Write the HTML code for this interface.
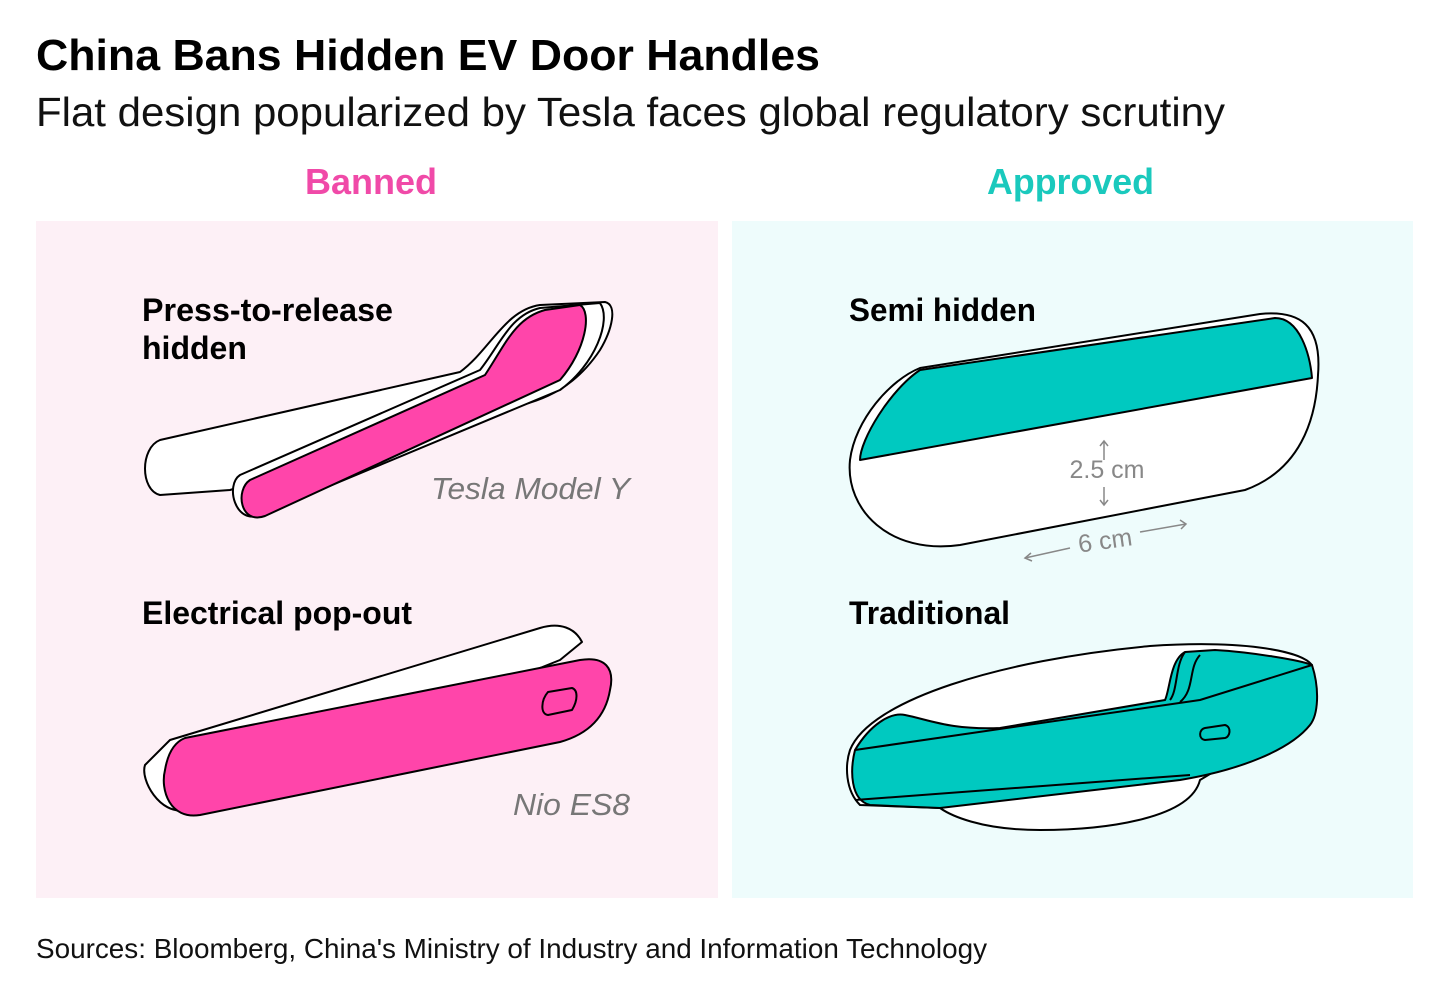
<!DOCTYPE html>
<html><head><meta charset="utf-8"><style>
html,body{margin:0;padding:0;background:#fff;width:1440px;height:990px;overflow:hidden}
svg{display:block}
text{font-family:"Liberation Sans",Arial,sans-serif}
</style></head><body>
<svg width="1440" height="990" viewBox="0 0 1440 990" xmlns="http://www.w3.org/2000/svg">
<rect width="1440" height="990" fill="#fff"/>
<text x="36" y="70" font-size="44" font-weight="bold" fill="#000" textLength="784" lengthAdjust="spacingAndGlyphs">China Bans Hidden EV Door Handles</text>
<text x="36" y="126" font-size="41" fill="#111" textLength="1189" lengthAdjust="spacingAndGlyphs">Flat design popularized by Tesla faces global regulatory scrutiny</text>
<text x="305" y="194" font-size="36" font-weight="bold" fill="#f04aa8" textLength="132" lengthAdjust="spacingAndGlyphs">Banned</text>
<text x="987" y="194" font-size="36" font-weight="bold" fill="#1ac9bd" textLength="167" lengthAdjust="spacingAndGlyphs">Approved</text>
<rect x="36" y="221" width="682" height="677" fill="#fdf0f6"/>
<rect x="732" y="221" width="681" height="677" fill="#eefcfc"/>

<text x="142" y="321" font-size="32" font-weight="bold" fill="#000" textLength="251" lengthAdjust="spacingAndGlyphs">Press-to-release</text>
<text x="142" y="359" font-size="32" font-weight="bold" fill="#000">hidden</text>
<text x="142" y="624" font-size="32" font-weight="bold" fill="#000" textLength="270" lengthAdjust="spacingAndGlyphs">Electrical pop-out</text>
<text x="849" y="321" font-size="32" font-weight="bold" fill="#000" textLength="187" lengthAdjust="spacingAndGlyphs">Semi hidden</text>
<text x="849" y="624" font-size="32" font-weight="bold" fill="#000" textLength="161" lengthAdjust="spacingAndGlyphs">Traditional</text>
<text x="431" y="499" font-size="31" font-style="italic" fill="#777" textLength="199" lengthAdjust="spacingAndGlyphs">Tesla Model Y</text>
<text x="513" y="815" font-size="31" font-style="italic" fill="#777" textLength="117" lengthAdjust="spacingAndGlyphs">Nio ES8</text>

<g stroke="#000" stroke-width="2" stroke-linejoin="round">
<!-- Tesla -->
<path d="M160 440 L460 372 C490 350 505 310 540 305 L605 302 C618 305 612 330 600 350 C580 380 550 405 490 410 L230 490 L160 495 C140 490 140 448 160 440 Z" fill="#fff"/>
<path d="M240 475 L480 370 C500 345 510 315 540 308 L600 303 C612 320 595 365 560 390 L260 515 C235 525 225 485 240 475 Z" fill="#fff"/>
<path d="M250 480 L485 375 C505 345 515 318 545 310 L580 305 C592 312 586 350 560 380 L265 516 C240 525 235 490 250 480 Z" fill="#ff45aa"/>
<!-- Nio -->
<path d="M170 740 L540 628 C560 622 575 628 582 642 L560 660 L185 810 C160 815 140 780 145 765 Z" fill="#fff"/>
<path d="M185 738 L580 660 C605 656 615 668 610 690 C605 720 585 735 560 742 L200 815 C170 820 160 790 165 770 C168 752 175 742 185 738 Z" fill="#ff45aa"/>
<path d="M548 692 L572 688 C578 690 578 700 572 710 L548 715 C540 714 541 700 548 692 Z" fill="#ff45aa"/>
<!-- Semi hidden -->
<path d="M920 368 L1260 314 C1300 310 1322 325 1318 375 C1316 420 1300 470 1245 490 L960 545 C890 555 845 510 850 460 C855 420 890 380 920 368 Z" fill="#fff"/>
<path d="M920 370 L1275 318 C1300 318 1310 355 1312 378 L860 460 C860 440 890 390 920 370 Z" fill="#00c9c0"/>
</g>
<g fill="none" stroke="#888" stroke-width="1.5">
<line x1="1104" y1="442" x2="1104" y2="460"/><path d="M1100 446 L1104 441 L1108 446"/>
<line x1="1104" y1="487" x2="1104" y2="504"/><path d="M1100 500 L1104 505 L1108 500"/>
<line x1="1025" y1="558" x2="1070" y2="548"/><path d="M1031 553 L1025 558 L1032 561"/>
<line x1="1140" y1="532" x2="1186" y2="524"/><path d="M1180 520 L1186 524 L1181 529"/>
</g>
<text x="1107" y="478" font-size="25" fill="#888" text-anchor="middle">2.5 cm</text>
<text x="1105" y="549" font-size="25" fill="#888" text-anchor="middle" transform="rotate(-8 1105 540)">6 cm</text>
<!-- Traditional -->
<g stroke="#000" stroke-width="2" stroke-linejoin="round">
<path d="M850 750 C870 700 1000 660 1150 646 C1240 640 1300 650 1312 665 L1300 720 L1200 780 C1190 820 1100 830 1040 830 C980 830 950 815 940 808 L860 805 C845 790 845 765 850 750 Z" fill="#fff"/>
<path d="M855 750 C870 725 890 712 905 715 C930 720 950 730 1000 728 L1165 700 C1170 690 1170 660 1185 652 L1215 650 C1250 652 1300 660 1312 665 C1320 690 1318 715 1310 725 C1290 750 1240 770 1180 780 L940 808 L870 805 C850 800 850 770 855 750 Z" fill="#00c9c0"/>
<path d="M855 750 L1200 700 L1312 665" fill="none"/>
<path d="M855 800 L1190 775" fill="none"/>
<path d="M1185 652 C1175 665 1178 690 1170 700 M1200 655 C1188 668 1195 690 1180 702" fill="none"/>
<path d="M1205 728 L1225 725 C1232 727 1230 737 1225 738 L1205 740 C1198 739 1199 729 1205 728 Z" fill="#00c9c0"/>
</g>
<text x="36" y="958" font-size="28" fill="#111" textLength="951" lengthAdjust="spacingAndGlyphs">Sources: Bloomberg, China's Ministry of Industry and Information Technology</text>
</svg>
</body></html>
